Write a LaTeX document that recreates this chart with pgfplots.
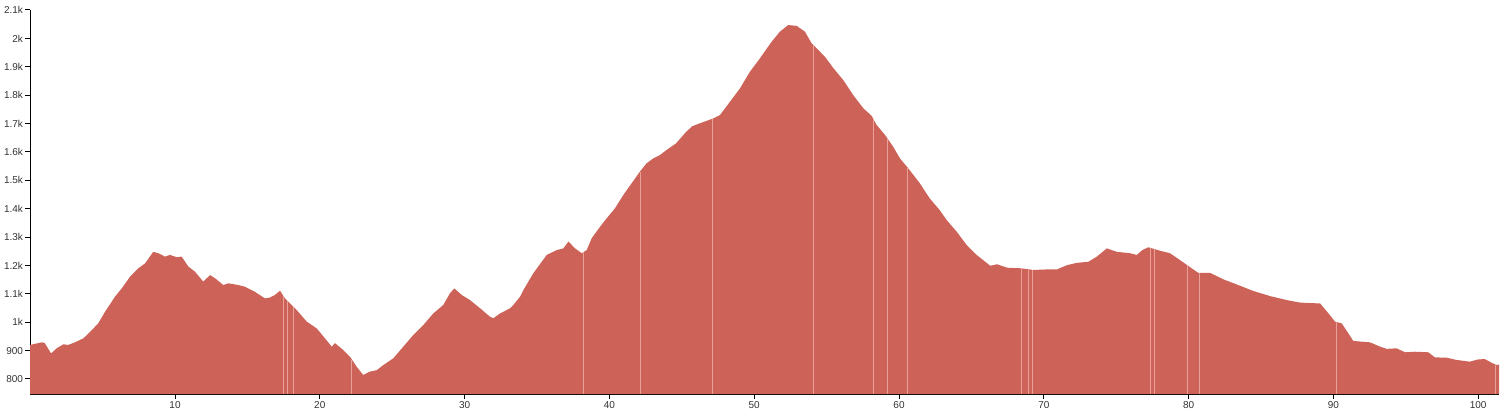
\documentclass[border=0pt]{standalone}
\usepackage{fontspec}
\setmainfont{Liberation Sans}
\usepackage{pgfplots}
\pgfplotsset{compat=1.18}
\definecolor{elev}{RGB}{205,99,88}
\definecolor{gap}{RGB}{232,160,152}
\definecolor{lbl}{RGB}{51,51,51}
\begin{document}
\begin{tikzpicture}
\begin{axis}[
  name=ax,
  width=1469bp, height=384bp, scale only axis,
  xmin=0, xmax=101.45, ymin=747, ymax=2100,
  axis lines*=left,
  axis line style={black, line width=1.2bp},
  tick style={black, line width=1bp},
  major tick length=5bp,
  tick align=outside,
  xtick={10,20,30,40,50,60,70,80,90,100},
  xticklabels={10,20,30,40,50,60,70,80,90,100},
  ytick={800,900,1000,1100,1200,1300,1400,1500,1600,1700,1800,1900,2000,2100},
  yticklabels={800,900,1k,1.1k,1.2k,1.3k,1.4k,1.5k,1.6k,1.7k,1.8k,1.9k,2k,2.1k},
  tick label style={font=\fontsize{10bp}{12bp}\selectfont, text=lbl},
  yticklabel style={inner sep=2bp},
  xticklabel style={inner sep=2.5bp},
  clip=true,
]
\addplot[fill=elev, draw=none] coordinates {
(0,920) (0.8,929) (1.0,927) (1.44,890) (1.83,908) (2.29,922) (2.63,920) (3.09,929)
(3.67,943) (4.25,972) (4.70,996) (5.17,1037) (5.86,1090) (6.32,1119) (6.89,1160)
(7.47,1190) (7.93,1207) (8.5,1248) (8.85,1243) (9.31,1231) (9.66,1237) (10.12,1229)
(10.46,1231) (10.92,1196) (11.38,1178) (11.95,1143) (12.42,1166) (12.76,1155)
(13.34,1131) (13.68,1137) (14.37,1131) (14.83,1125) (15.52,1107) (16.21,1084)
(16.56,1087) (16.9,1096) (17.25,1111) (17.6,1084) (18.4,1043) (19.1,1002)
(19.79,978) (20.36,943) (20.82,914) (21.05,926) (21.62,902) (22.09,878) (22.55,843)
(23.0,814) (23.47,826) (23.93,831) (24.39,849) (25.08,873) (25.77,914) (26.46,955)
(27.15,990) (27.84,1031) (28.53,1061) (28.99,1102) (29.29,1119) (29.8,1096)
(30.37,1078) (31.07,1049) (31.76,1019) (31.99,1014) (32.45,1031) (33.14,1049)
(33.37,1061) (33.83,1090) (34.06,1113) (34.74,1172) (35.67,1237) (36.36,1254)
(36.82,1260) (37.17,1284) (37.63,1260) (38.09,1243) (38.43,1254) (38.78,1296)
(39.35,1336) (39.81,1366) (40.38,1401) (40.96,1448) (41.53,1489) (42.1,1530)
(42.57,1560) (43.03,1577) (43.49,1589) (43.95,1607) (44.6,1630) (45.2,1665)
(45.7,1690) (46.26,1701) (47.18,1718) (47.64,1730) (48.33,1777) (49.02,1824)
(49.71,1883) (50.4,1930) (51.2,1988) (51.78,2024) (52.35,2047) (52.93,2044)
(53.5,2024) (53.96,1983) (54.31,1965) (54.89,1935) (55.47,1895) (56.15,1853)
(56.84,1800) (57.53,1754) (58.11,1727) (58.45,1695) (59.03,1660) (59.6,1618)
(60.07,1577) (60.64,1542) (61.43,1490) (62.12,1436) (62.81,1395) (63.29,1360)
(63.98,1319) (64.67,1272) (65.36,1237) (66.3,1199) (66.78,1204) (67.47,1192)
(68.38,1190) (69.3,1184) (70.22,1186) (70.91,1186) (71.6,1201) (72.27,1209)
(73.08,1213) (73.66,1231) (74.35,1260) (75.04,1248) (75.96,1243) (76.42,1237)
(76.8,1254) (77.22,1264) (78.02,1252) (78.71,1243) (79.4,1219) (80.32,1186)
(80.67,1174) (81.48,1174) (82.4,1151) (83.32,1133) (84.47,1110) (85.62,1092)
(86.77,1078) (87.7,1069) (89.08,1066) (89.66,1031) (90.11,1002) (90.57,996)
(91.03,961) (91.37,934) (92.53,929) (93.22,914) (93.68,906) (94.37,908) (94.94,894)
(95.63,896) (96.55,894) (97.01,876) (97.82,875) (98.5,867) (99.42,861) (100.0,869)
(100.46,870) (100.93,857) (101.28,849) (101.45,851)
} \closedcycle;
\addplot[ycomb, draw=gap, line width=0.8bp, mark=none] coordinates {
(17.48,1092) (17.76,1076) (18.17,1054) (22.2,868) (38.2,1246) (42.13,1530)
(47.13,1715) (54.08,1976) (58.23,1716) (59.2,1648) (60.58,1544) (68.48,1188)
(68.94,1186) (69.24,1184) (77.38,1260) (77.63,1257) (79.94,1200) (80.74,1172)
(90.18,1000) (101.18,848)
};
\end{axis}
\path (ax.south west) ++(-30.2bp,-22bp);
\path (ax.north east) ++(4.8bp,10bp);
\end{tikzpicture}
\end{document}
